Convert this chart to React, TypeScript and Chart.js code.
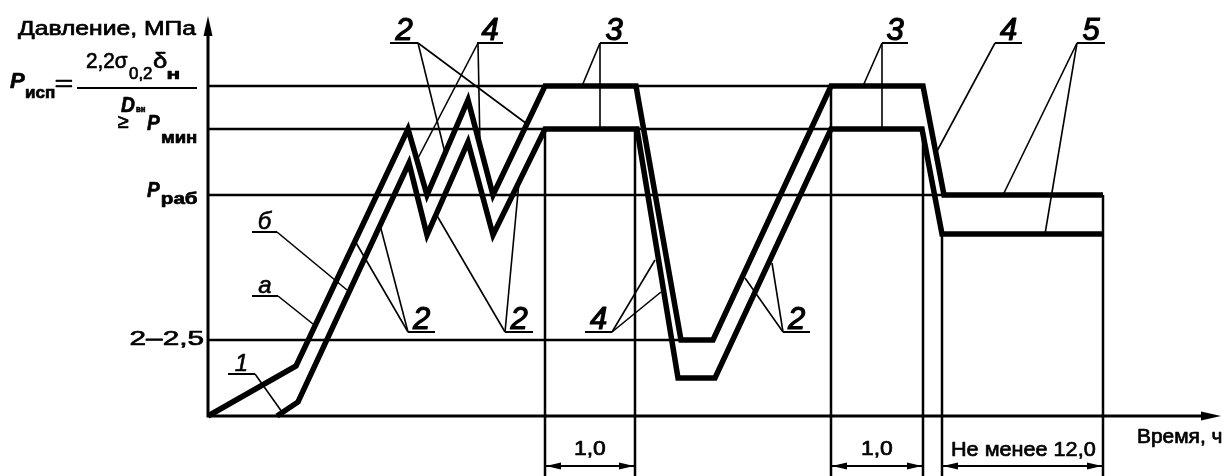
import React, { useEffect, useRef } from "react";
import { Chart, registerables } from "chart.js";

Chart.register(...registerables);

const FONT = "'Liberation Sans', Arial, sans-serif";

// ---- pressure levels (schematic units) ----
const LEVEL_PRESSURE = [330, 287, 221, 76]; // P_исп, P_мин, P_раб, 2–2,5
const LEVEL_END_TIME = [715, 714, 736, 473];

// ---- curve "а" (upper) ----
const CURVE_A_TIME = [0, 88, 200, 219, 260, 285, 337, 428, 473, 505, 623, 715, 736, 895];
const CURVE_A_PRESSURE = [0, 50, 287, 221, 316, 221, 330, 330, 76, 76, 330, 330, 221, 221];

// ---- curve "б" (lower) ----
const CURVE_B_TIME = [69, 90, 201, 219, 260, 285, 337, 429, 470, 507, 623, 714, 734, 895];
const CURVE_B_PRESSURE = [0, 14, 253, 181, 274, 181, 287, 287, 38, 38, 287, 287, 182, 182];

// ---- hold-interval marks ----
const MARK_TIME = [337, 427, 623, 715, 734, 895];
const MARK_TOP = [287, 287, 330, 287, 182, 221];
const INTERVAL_LABELS = ["1,0", "1,0", "Не менее 12,0"];
const INTERVAL_FROM = [337, 623, 734];
const INTERVAL_TO = [427, 715, 895];

// ---- callouts ----
const CALLOUT_TEXT = ["2", "4", "3", "3", "4", "5", "2", "2", "4", "2", "а", "б", "1"];
const CALLOUT_UL_FROM = [182, 269, 392, 674, 787, 869, 200, 297, 377, 575, 44, 44, 20];
const CALLOUT_UL_TO = [210, 295, 420, 700, 814, 897, 227, 325, 404, 602, 70, 69, 47];
const CALLOUT_UL_Y = [373, 373, 373, 373, 373, 373, 84, 84, 84, 84, 120, 184, 42];
const CALLOUT_ANCHOR = [210, 270, 392, 674, 787, 869, 200, 297, 404, 575, 70, 69, 47];
const CALLOUT_TARGETS: number[][][] = [
  [[237, 263], [319, 292]],
  [[209, 256], [272, 270]],
  [[374, 330], [392, 287]],
  [[655, 330], [674, 287]],
  [[728, 263]],
  [[795, 221], [837, 182]],
  [[147, 175], [172, 191]],
  [[228, 202], [311, 234]],
  [[447, 156], [453, 124]],
  [[537, 138], [564, 153]],
  [[105, 92]],
  [[139, 126]],
  [[74, 4]],
];

// ---- axis / frame (drawing units) ----
const X_MAX = 1014;
const Y_MAX = 400;
const X_AXIS_END = 1013;
const Y_AXIS_TOP = 400;
const DIM_Y = -50;
const MARK_BOTTOM = -60;

// Text placement: [text, left, right, baseline, font]
const TEXTS: [string, number, number, number, string][] = [
  ["Давление, МПа", -190, -11, 381, `20px ${FONT}`],
  ["P", -198, -183, 328, `italic bold 22px ${FONT}`],
  ["исп", -182, -153, 318, `bold 17px ${FONT}`],
  ["=", -152, -136, 325, `22px ${FONT}`],
  ["2,2σ", -121, -80, 348, `22px ${FONT}`],
  ["0,2", -79, -56, 337, `17px ${FONT}`],
  ["δ", -55, -41, 348, `22px ${FONT}`],
  ["н", -40, -28, 337, `bold 15px ${FONT}`],
  ["D", -87, -73, 304, `italic bold 22px ${FONT}`],
  ["вн", -72, -63, 304, `bold 9px ${FONT}`],
  ["P", -61, -48, 286, `italic bold 22px ${FONT}`],
  ["мин", -46, -11, 273, `bold 17px ${FONT}`],
  ["P", -61, -48, 219, `italic bold 22px ${FONT}`],
  ["раб", -46, -11, 212, `bold 17px ${FONT}`],
  ["2–2,5", -77, -5, 71, `21px ${FONT}`],
  ["Время, ч", 930, 1014, -27, `20px ${FONT}`],
];
// plain (unstretched) symbol: [text, centre x, baseline, font]
const SYMBOLS: [string, number, number, string][] = [["≥", -85, 288, `20px ${FONT}`]];
const INTERVAL_TEXT_POS: [number, number, number][] = [
  [367, 397, -39],
  [654, 684, -39],
  [744, 887, -40],
];

const zip = (xs: number[], ys: number[]) => xs.map((x, i) => [x, ys[i]]);

export default function App() {
  const ref = useRef<HTMLCanvasElement>(null);

  useEffect(() => {
    document.body.style.margin = "0";
    const canvas = ref.current!;

    const line = (pts: number[][], w: number) => ({
      data: pts.map(([x, y]) => ({ x, y })),
      showLine: true,
      borderColor: "#000",
      backgroundColor: "#000",
      borderWidth: w,
      pointRadius: 0,
      pointHoverRadius: 0,
      borderJoinStyle: "miter",
      borderCapStyle: "butt",
      tension: 0,
      fill: false,
      clip: false,
    });

    const datasets: any[] = [];
    datasets.push(line(zip(CURVE_A_TIME, CURVE_A_PRESSURE), 5.5));
    datasets.push(line(zip(CURVE_B_TIME, CURVE_B_PRESSURE), 5.5));
    LEVEL_PRESSURE.forEach((p, i) => datasets.push(line([[0, p], [LEVEL_END_TIME[i], p]], 2.5)));
    MARK_TIME.forEach((t, i) => datasets.push(line([[t, MARK_TOP[i]], [t, MARK_BOTTOM]], 2.5)));
    datasets.push(line([[0, Y_AXIS_TOP - 10], [0, 0], [X_AXIS_END - 10, 0]], 3));
    INTERVAL_FROM.forEach((f, i) => datasets.push(line([[f, DIM_Y], [INTERVAL_TO[i], DIM_Y]], 2)));
    CALLOUT_TEXT.forEach((_, i) => {
      datasets.push(line([[CALLOUT_UL_FROM[i], CALLOUT_UL_Y[i]], [CALLOUT_UL_TO[i], CALLOUT_UL_Y[i]]], 2));
      CALLOUT_TARGETS[i].forEach((t) =>
        datasets.push(line([[CALLOUT_ANCHOR[i], CALLOUT_UL_Y[i]], t], 1.6))
      );
    });
    // fraction bar of the formula
    datasets.push(line([[-131, 328], [-11, 328]], 2));

    const annot = {
      id: "annot",
      afterDatasetsDraw(chart: any) {
        const { ctx } = chart;
        const xs = chart.scales.x;
        const ys = chart.scales.y;
        const px = (v: number) => xs.getPixelForValue(v);
        const py = (v: number) => ys.getPixelForValue(v);
        ctx.save();
        ctx.fillStyle = "#000";
        ctx.strokeStyle = "#000";
        ctx.lineJoin = "round";

        const tri = (tx: number, ty: number, dx: number, dy: number, len: number, half: number) => {
          const nx = -dy, ny = dx;
          ctx.beginPath();
          ctx.moveTo(tx, ty);
          ctx.lineTo(tx - dx * len + nx * half, ty - dy * len + ny * half);
          ctx.lineTo(tx - dx * len - nx * half, ty - dy * len - ny * half);
          ctx.closePath();
          ctx.fill();
        };
        // axis arrows
        tri(px(0), py(Y_AXIS_TOP), 0, -1, 20, 4.5);
        tri(px(X_AXIS_END), py(0), 1, 0, 20, 4.5);
        // dimension arrows
        INTERVAL_FROM.forEach((f, i) => {
          tri(px(f) + 1, py(DIM_Y), -1, 0, 15, 3.5);
          tri(px(INTERVAL_TO[i]) - 1, py(DIM_Y), 1, 0, 15, 3.5);
        });

        const fitText = (s: string, l: number, r: number, b: number, font: string) => {
          ctx.font = font;
          ctx.textAlign = "left";
          ctx.textBaseline = "alphabetic";
          const m = ctx.measureText(s);
          const ink = m.actualBoundingBoxLeft + m.actualBoundingBoxRight;
          const w = px(r) - px(l);
          const sc = w / ink;
          ctx.save();
          ctx.translate(px(l) + m.actualBoundingBoxLeft * sc, py(b));
          ctx.scale(sc, 1);
          ctx.lineWidth = 0.7;
          ctx.fillText(s, 0, 0);
          ctx.strokeText(s, 0, 0);
          ctx.restore();
        };
        TEXTS.forEach(([s, l, r, b, f]) => fitText(s, l, r, b, f));
        SYMBOLS.forEach(([s, cx, b, f]) => {
          ctx.font = f;
          ctx.textAlign = "center";
          ctx.textBaseline = "alphabetic";
          ctx.lineWidth = 0.7;
          ctx.fillText(s, px(cx), py(b));
          ctx.strokeText(s, px(cx), py(b));
        });
        INTERVAL_LABELS.forEach((s, i) => {
          const [l, r, b] = INTERVAL_TEXT_POS[i];
          fitText(s, l, r, b, `21px ${FONT}`);
        });

        // callout numbers / letters
        CALLOUT_TEXT.forEach((s, i) => {
          const isLetter = i >= 10;
          ctx.font = isLetter ? `italic 24px ${FONT}` : `italic 31px ${FONT}`;
          ctx.textAlign = "center";
          ctx.textBaseline = "alphabetic";
          ctx.lineWidth = isLetter ? 0.6 : 1.2;
          const cx = (CALLOUT_UL_FROM[i] + CALLOUT_UL_TO[i]) / 2;
          ctx.fillText(s, px(cx), py(CALLOUT_UL_Y[i] + 3));
          ctx.strokeText(s, px(cx), py(CALLOUT_UL_Y[i] + 3));
        });
        ctx.restore();
      },
    };

    const chart = new Chart(canvas, {
      type: "scatter",
      data: { datasets },
      options: {
        responsive: false,
        animation: false,
        events: [],
        layout: { padding: { left: 208, right: 2, top: 16, bottom: 60 } },
        scales: {
          x: { type: "linear", min: 0, max: X_MAX, display: false },
          y: { type: "linear", min: 0, max: Y_MAX, display: false },
        },
        plugins: { legend: { display: false }, tooltip: { enabled: false } },
      },
      plugins: [annot],
    } as any);

    return () => chart.destroy();
  }, []);

  return (
    <div style={{ width: 1224, height: 476, background: "#fff" }}>
      <canvas ref={ref} width={1224} height={476} style={{ display: "block" }} />
    </div>
  );
}
